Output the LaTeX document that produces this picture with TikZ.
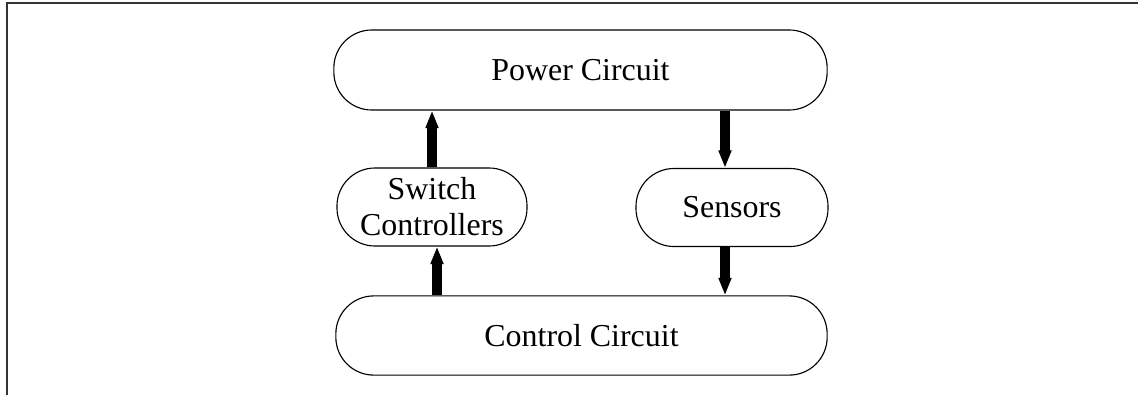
\documentclass[tikz,border=0pt]{standalone}
\usepackage{fontspec}
\setmainfont{Liberation Serif}
\usetikzlibrary{arrows.meta, positioning}

\begin{document}
\begin{tikzpicture}[x=0.025cm, y=-0.025cm, >={Triangle[width=0pt 1.1, length=0pt 1.6]},
  blockbox/.style={draw, thick, rounded corners=0.95cm, minimum height=2cm, inner sep=0pt,
    align=center, font=\fontsize{22.7}{25.6}\selectfont},
  fatarrow/.style={->, line width=7.8pt}]
  \useasboundingbox (0,0) rectangle (1138,395);
  % --- frame ---
  \draw[black!80, line width=1pt] (7,395) -- (7,3) -- (1138,3);

  % --- blocks ---
  \node[blockbox, minimum width=12.33cm] (power) at (580.5,70) {Power Circuit};
  \node[blockbox, minimum width=4.75cm, minimum height=1.95cm] (switch) at (432,207) {Switch\\Controllers};
  \node[blockbox, minimum width=4.8cm, minimum height=1.95cm] (sensors) at (732,207.5) {Sensors};
  \node[blockbox, minimum width=12.28cm, minimum height=1.98cm] (control) at (581.5,335.5) {Control Circuit};

  % --- arrows ---
  \draw[fatarrow] (switch.north) -- (switch.north |- power.south);
  \draw[fatarrow] ([xshift=0.125cm]switch.south |- control.north) -- ([xshift=0.125cm]switch.south);
  \draw[fatarrow] ([xshift=-0.175cm]sensors.north |- power.south) -- ([xshift=-0.175cm]sensors.north);
  \draw[fatarrow] ([xshift=-0.175cm]sensors.south) -- ([xshift=-0.175cm]sensors.south |- control.north);
\end{tikzpicture}
\end{document}
